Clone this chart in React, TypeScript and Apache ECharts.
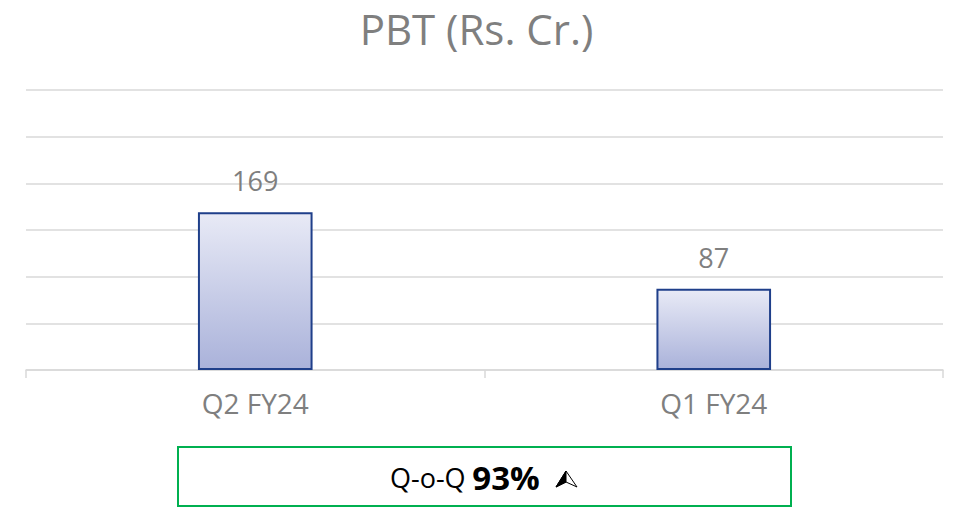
import React, { useEffect, useRef } from "react";
import * as echarts from "echarts";

const categories = ["Q2 FY24", "Q1 FY24"];
const pbtValues = [169, 87];
const titleText = "PBT (Rs. Cr.)";
const changeLabel = "Q-o-Q";
const changeValue = "93%";

export default function App() {
  const ref = useRef<HTMLDivElement>(null);
  useEffect(() => {
    if (!ref.current) return;
    const chart = echarts.init(ref.current, null, { renderer: "svg" });
    const font = "'Open Sans', 'Noto Sans', sans-serif";
    chart.setOption({
      animation: false,
      backgroundColor: "#ffffff",
      title: {
        text: titleText,
        left: "center",
        top: 2,
        textStyle: { fontFamily: font, fontSize: 42, fontWeight: "normal", color: "#7f7f7f" },
      },
      grid: { left: 26, right: 10, top: 90, bottom: 138 },
      xAxis: {
        type: "category",
        data: categories,
        axisLine: { lineStyle: { color: "#d9d9d9", width: 1.5 } },
        axisTick: { show: true, length: 8, lineStyle: { color: "#d9d9d9", width: 1.5 } },
        axisLabel: { fontFamily: font, fontSize: 28, color: "#7f7f7f", margin: 19 },
      },
      yAxis: {
        type: "value",
        min: 0,
        max: 300,
        interval: 50,
        axisLabel: { show: false },
        axisLine: { show: false },
        axisTick: { show: false },
        splitLine: { lineStyle: { color: "#d9d9d9", width: 1.5 } },
      },
      series: [
        {
          type: "bar",
          data: pbtValues,
          barWidth: "25%",
          itemStyle: {
            color: new echarts.graphic.LinearGradient(0, 0, 0, 1, [
              { offset: 0, color: "#e8eaf6" },
              { offset: 1, color: "#aab2da" },
            ]),
            borderColor: "#1f3f8a",
            borderWidth: 2,
          },
          label: {
            show: true,
            position: "top",
            distance: 18,
            fontFamily: font,
            fontSize: 27,
            color: "#7f7f7f",
          },
        },
      ],
      graphic: [
        {
          type: "rect",
          shape: { x: 178, y: 447, width: 613, height: 59 },
          style: { fill: "none", stroke: "#00b050", lineWidth: 2 },
        },
        {
          type: "text",
          x: 390,
          y: 477,
          style: {
            text: "{a|" + changeLabel + "}  {b|" + changeValue + "}",
            align: "left",
            verticalAlign: "middle",
            rich: {
              a: { fontFamily: font, fontSize: 27, color: "#000000" },
              b: { fontFamily: font, fontSize: 33, fontWeight: "bold", color: "#000000" },
            },
          },
        },
        {
          type: "polygon",
          shape: { points: [[566, 471], [556, 487], [566, 482], [577, 487]] },
          style: { fill: "#ffffff", stroke: "#000000", lineWidth: 1 },
        },
        {
          type: "polygon",
          shape: { points: [[566, 471], [556, 487], [566, 482]] },
          style: { fill: "#000000", stroke: "#000000", lineWidth: 1 },
        },
      ],
    });
    return () => chart.dispose();
  }, []);
  return (
    <div
      ref={ref}
      style={{ position: "fixed", left: 0, top: 0, width: 953, height: 508 }}
    />
  );
}
